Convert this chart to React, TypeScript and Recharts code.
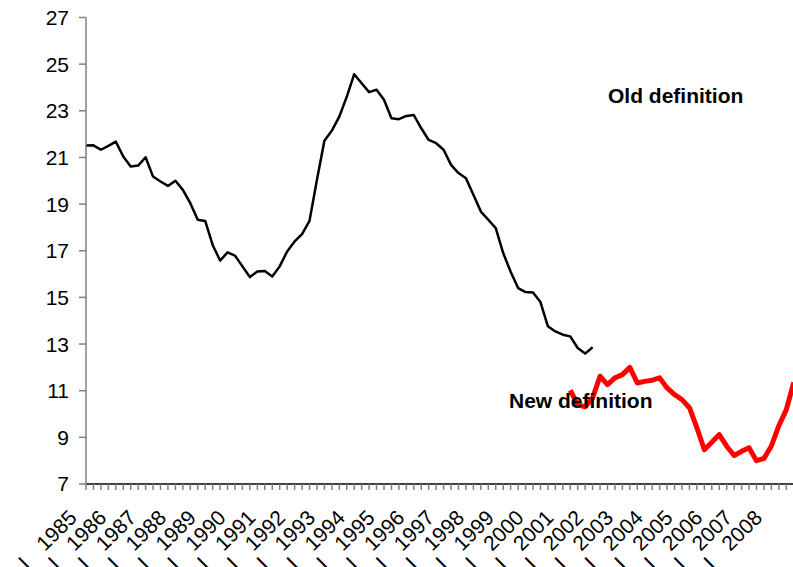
import React from "react"
import { LineChart, Line, XAxis, YAxis } from "recharts"

// quarterly series, 1985 Q1 .. 2008 Q4
const years = [
  1985, 1986, 1987, 1988, 1989, 1990, 1991, 1992, 1993, 1994, 1995, 1996,
  1997, 1998, 1999, 2000, 2001, 2002, 2003, 2004, 2005, 2006, 2007, 2008,
]
const quarters = ["I", "II", "III", "IV"]

// old definition, 1985 Q1 .. 2002 Q1
const oldDefinition = [
  21.51, 21.52, 21.33, 21.5, 21.68, 21.04, 20.61, 20.65, 21.01, 20.18, 19.97, 19.78,
  20.0, 19.61, 19.04, 18.33, 18.28, 17.25, 16.58, 16.93, 16.79, 16.33, 15.87, 16.11,
  16.13, 15.9, 16.33, 16.97, 17.4, 17.71, 18.28, 20.04, 21.72, 22.15, 22.75, 23.6,
  24.57, 24.18, 23.8, 23.9, 23.47, 22.68, 22.64, 22.78, 22.82, 22.25, 21.75, 21.61,
  21.33, 20.68, 20.33, 20.11, 19.4, 18.68, 18.33, 17.97, 16.9, 16.1, 15.4, 15.23,
  15.21, 14.8, 13.76, 13.54, 13.4, 13.33, 12.83, 12.59, 12.86,
]

// new definition, 2001 Q2 .. 2008 Q4
const newStart = 65
const newDefinition = [
  11.02, 10.4, 10.31, 10.69, 11.62, 11.26, 11.55, 11.69, 12.0, 11.33, 11.4, 11.45,
  11.55, 11.12, 10.83, 10.62, 10.27, 9.41, 8.47, 8.79, 9.12, 8.62, 8.22, 8.4,
  8.55, 8.0, 8.1, 8.63, 9.5, 10.19, 11.35,
]

const yTicks = [7, 9, 11, 13, 15, 17, 19, 21, 23, 25, 27]

const data = years.flatMap((year, yi) =>
  quarters.map((q, qi) => {
    const k = yi * 4 + qi
    const n = k - newStart
    return {
      name: `${year} ${q}`,
      year,
      q: qi,
      old: k < oldDefinition.length ? oldDefinition[k] : null,
      nw: n >= 0 && n < newDefinition.length ? newDefinition[n] : null,
    }
  })
)

const FONT = "'Liberation Sans', Arial, sans-serif"

function YearTick(props: any) {
  const { x, y, index } = props
  const row = data[index]
  if (!row || row.q !== 0) return null
  const px = x - 8
  const py = y + 27
  return (
    <g>
      <text
        x={px}
        y={py}
        textAnchor="end"
        transform={`rotate(-45 ${px} ${py})`}
        fontSize={21}
        fontFamily={FONT}
        fill="#000"
      >
        {row.year}
      </text>
      <text
        x={px - 49}
        y={py + 49}
        textAnchor="middle"
        transform={`rotate(-45 ${px - 49} ${py + 49})`}
        fontSize={21}
        fontFamily={FONT}
        fill="#000"
      >
        {quarters[0]}
      </text>
    </g>
  )
}

export default function App() {
  return (
    <div
      style={{
        position: "absolute",
        left: 0,
        top: 0,
        width: 793,
        height: 567,
        overflow: "hidden",
        background: "#fff",
      }}
    >
      <LineChart
        width={800}
        height={567}
        data={data}
        margin={{ top: 17.5, right: 6.25, left: 0, bottom: 0 }}
      >
        <XAxis
          dataKey="name"
          interval={0}
          height={83}
          tickSize={6}
          axisLine={{ stroke: "#000", strokeWidth: 1.5 }}
          tickLine={{ stroke: "#808080", strokeWidth: 1.5 }}
          tick={<YearTick />}
        />
        <YAxis
          domain={[7, 27]}
          ticks={yTicks}
          width={86}
          tickSize={7}
          tickMargin={10}
          axisLine={{ stroke: "#808080", strokeWidth: 1.5 }}
          tickLine={{ stroke: "#808080", strokeWidth: 1.5 }}
          tick={{ fill: "#000", fontSize: 21, fontFamily: FONT }}
        />
        <Line
          dataKey="old"
          stroke="#000"
          strokeWidth={2.5}
          dot={false}
          strokeLinejoin="round"
          isAnimationActive={false}
        />
        <Line
          dataKey="nw"
          stroke="#ff0000"
          strokeWidth={5}
          dot={false}
          strokeLinejoin="round"
          isAnimationActive={false}
        />
      </LineChart>
      <svg
        width={793}
        height={567}
        style={{ position: "absolute", left: 0, top: 0, pointerEvents: "none" }}
      >
        <text x={608} y={103} fontSize={21} fontWeight="bold" fontFamily={FONT} fill="#000">
          Old definition
        </text>
        <text x={509} y={407.5} fontSize={21} fontWeight="bold" fontFamily={FONT} fill="#000">
          New definition
        </text>
      </svg>
    </div>
  )
}
